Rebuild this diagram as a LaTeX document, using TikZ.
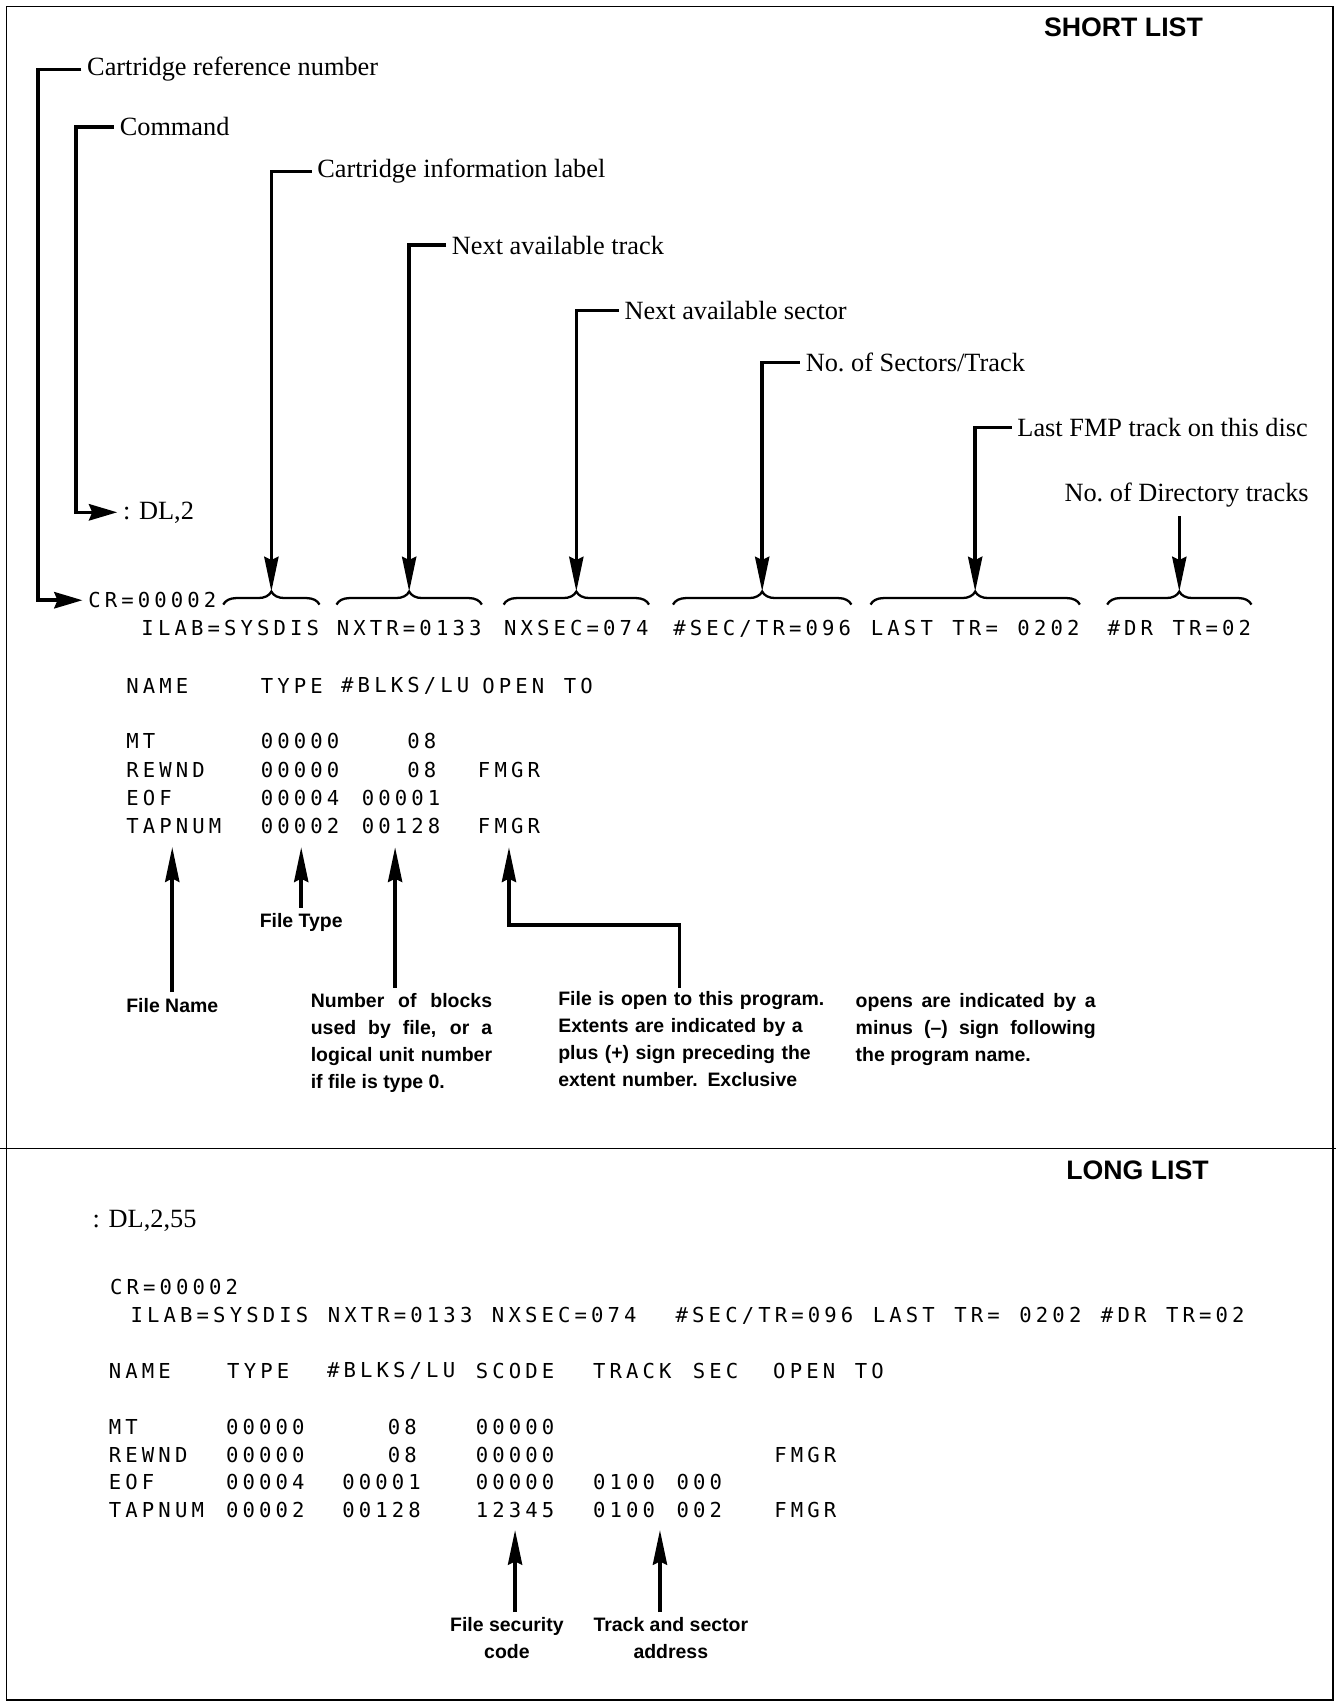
\documentclass[tikz,border=0pt]{standalone}
\usepackage{fontspec}
\setmainfont{Liberation Serif}
\newfontfamily\notefont{Liberation Sans}
\newfontfamily\prtfont[LetterSpace=20]{DejaVu Sans Mono}
\newcommand\prtset{\prtfont\fontsize{10.8}{13}\selectfont\spaceskip=0.95em\relax}
\usetikzlibrary{arrows.meta, positioning, calc, decorations.pathreplacing}

\tikzset{
  lead/.style={line width=1.9pt},
  ptr/.style={lead, -{Stealth[length=6.4mm, width=2.6mm, inset=0.6mm]}},
  hptr/.style={lead, -{Stealth[length=5.2mm, width=3mm, inset=0.6mm]}},
  prt/.style={font=\prtset, inner sep=0pt, anchor=west},
  tag/.style={font=\fontsize{13.8}{16}\selectfont, inner sep=0pt, anchor=west},
  note/.style={font=\notefont\bfseries\fontsize{10.2}{14.2}\selectfont, inner sep=0pt},
  head/.style={font=\notefont\bfseries\fontsize{14}{16}\selectfont, inner sep=0pt},
  brc/.style={decorate, decoration={brace, amplitude=0.24cm}, line width=1.2pt},
}

\begin{document}
\begin{tikzpicture}
\useasboundingbox (0,0) rectangle (24.62,31.36);
% frame
\draw[line width=0.9pt] (0.12,0.04) rectangle (24.56,31.24);
\draw[line width=0.9pt] (0,10.20) -- (24.62,10.20);

% ---- short list ----
\node[head] (short) at (20.70,30.86) {SHORT LIST};

\node[tag] (crn) at (1.60,30.08) {Cartridge reference number};
\node[tag] (cmd) at (2.20,29.02) {Command};
\node[tag] (cil) at (5.84,28.20) {Cartridge information label};
\node[tag] (nat) at (8.32,26.84) {Next available track};
\node[tag] (nas) at (11.50,25.64) {Next available sector};
\node[tag] (nst) at (14.84,24.68) {No.\ of Sectors/Track};
\node[tag] (lft) at (18.74,23.48) {Last FMP track on this disc};
\node[tag, anchor=east] (ndt) at (24.12,22.24) {No.\ of Directory tracks};

\node[tag] (dl) at (2.26,21.92) {: DL,2};
\node[prt] (cr) at (1.62,20.30) {CR=00002};

\foreach \nm/\x/\txt in {ilab/2.60/ILAB=SYSDIS, nxtr/6.20/NXTR=0133,
                         nxsec/9.28/NXSEC=074, sectr/12.40/{\#SEC/TR=096},
                         last/16.04/{LAST TR= 0202}, dr/20.40/{\#DR TR=02}}{
  \node[prt] (\nm) at (\x,19.78) {\txt};
}

% braces over the fields
\coordinate (bb) at (0,20.22);
\draw[brc] ($(cr.east |- bb)+(0.12,0)$) -- (ilab.east |- bb);
\coordinate (ilab-tip) at ($($(cr.east |- bb)+(0.12,0)$)!0.5!(ilab.east |- bb)+(0,0.24)$);
\foreach \f in {nxtr,nxsec,sectr,last,dr}{
  \draw[brc] (\f.west |- bb) -- (\f.east |- bb);
  \coordinate (\f-tip) at ($(\f.west |- bb)!0.5!(\f.east |- bb)+(0,0.24)$);
}

% leaders
\draw[hptr, shorten >=1mm] ([xshift=-1mm]crn.west) -- ++(-0.80,0) |- (cr.west);
\draw[hptr, shorten >=1mm] ([xshift=-1mm]cmd.west) -- ++(-0.70,0) |- (dl.west);
\foreach \l/\f in {cil/ilab, nat/nxtr, nas/nxsec, nst/sectr, lft/last}
  \draw[ptr] ([xshift=-1mm]\l.west) -| (\f-tip);
\draw[ptr] ($(ndt.south -| dr-tip)+(0,-0.16)$) -- (dr-tip);

% directory
\foreach \x/\h [count=\i] in {2.32/NAME, 4.80/TYPE, 6.28/{\#BLKS/LU}, 8.88/{OPEN TO}}
  \node[prt] (sh\i) at (\x,18.72) {\h};

\def\shortrow#1#2#3#4#5{%
  \node[prt] (nm#1) at (2.32,#2) {#3};
  \node[prt] (ty#1) at (4.80,#2) {#4};
  \node[prt] (bl#1) at (6.66,#2) {#5};
}
\shortrow{1}{17.70}{MT}{00000}{\phantom{000}08}
\shortrow{2}{17.18}{REWND}{00000}{\phantom{000}08}
\shortrow{3}{16.66}{EOF}{00004}{00001}
\shortrow{4}{16.14}{TAPNUM}{00002}{00128}
\node[prt] (op2) at (8.80,17.18) {FMGR};
\node[prt] (op4) at (8.80,16.14) {FMGR};

% notes under the directory
\node[note, anchor=west] (fname) at (2.32,12.84) {File Name};
\node[note] (ftype) at (5.55,14.36) {File Type};
\node[note, anchor=north west, text width=3.34cm, align=justify] (nblk) at (5.72,13.06)
  {Number of blocks\linebreak used by file, or a\linebreak logical unit number\linebreak if file is type 0.};
\node[note, anchor=north west, text width=4.9cm, align=left] (fop) at (10.28,13.10)
  {File is open to this program.\\ Extents are indicated by a\\ plus (+) sign preceding the\\ extent number.  Exclusive};
\node[note, anchor=north west, text width=4.42cm, align=justify] (fop2) at (15.76,13.06)
  {opens are indicated by a\linebreak minus (–) sign following\linebreak the program name.};

\draw[ptr, shorten <=1mm, shorten >=2.4mm] (fname.north) -- (fname.north |- nm4.south);
\draw[ptr, shorten <=1mm, shorten >=2.4mm] (ftype.north) -- (ftype.north |- ty4.south);
\draw[ptr, shorten <=1mm, shorten >=2.4mm] ($(nblk.north west)+(1.56,0)$) -- ($(nblk.north west |- bl4.south)+(1.56,0)$);
\draw[ptr, shorten >=2.4mm] ($(fop.north west)+(2.24,0.06)$) -- ++(0,1.16) -| (op4.south);

% ---- long list ----
\node[head] (long) at (20.96,9.80) {LONG LIST};
\node[tag] (dl2) at (1.70,8.86) {: DL,2,55};
\node[prt] (cr2) at (2.02,7.64) {CR=00002};
\node[prt] (ilab2) at (2.40,7.12)
  {ILAB=SYSDIS NXTR=0133 NXSEC=074\ \ \#SEC/TR=096 LAST TR= 0202 \#DR TR=02};

\foreach \x/\h [count=\i] in {2.00/NAME, 4.18/TYPE, 6.02/{\#BLKS/LU}, 8.76/SCODE,
                              10.92/TRACK, 12.76/SEC, 14.24/{OPEN TO}}
  \node[prt] (lh\i) at (\x,6.10) {\h};

\def\longrow#1#2#3#4#5#6{%
  \node[prt] (ln#1) at (2.00,#2) {#3};
  \node[prt] (lt#1) at (4.16,#2) {#4};
  \node[prt] (lb#1) at (6.30,#2) {#5};
  \node[prt] (ls#1) at (8.76,#2) {#6};
}
\longrow{1}{5.06}{MT}{00000}{\phantom{000}08}{00000}
\longrow{2}{4.56}{REWND}{00000}{\phantom{000}08}{00000}
\longrow{3}{4.06}{EOF}{00004}{00001}{00000}
\longrow{4}{3.54}{TAPNUM}{00002}{00128}{12345}
\node[prt] (lo2) at (14.26,4.56) {FMGR};
\node[prt] (ltr3) at (10.92,4.06) {0100};
\node[prt] (lsc3) at (12.46,4.06) {000};
\node[prt] (ltr4) at (10.92,3.54) {0100};
\node[prt] (lsc4) at (12.46,3.54) {002};
\node[prt] (lo4) at (14.26,3.54) {FMGR};

\node[note, align=center] (fsc) at (9.34,1.17) {File security\\code};
\node[note, align=center] (tsa) at (12.36,1.17) {Track and sector\\address};
\draw[ptr, shorten <=1mm, shorten >=2.2mm] (fsc.north -| ls4.south) -- (ls4.south);
\draw[ptr, shorten <=1mm, shorten >=2.2mm] ($(tsa.north)+(-0.2,0)$) -- ($(tsa.north |- ltr4.south)+(-0.2,0)$);
\end{tikzpicture}
\end{document}
